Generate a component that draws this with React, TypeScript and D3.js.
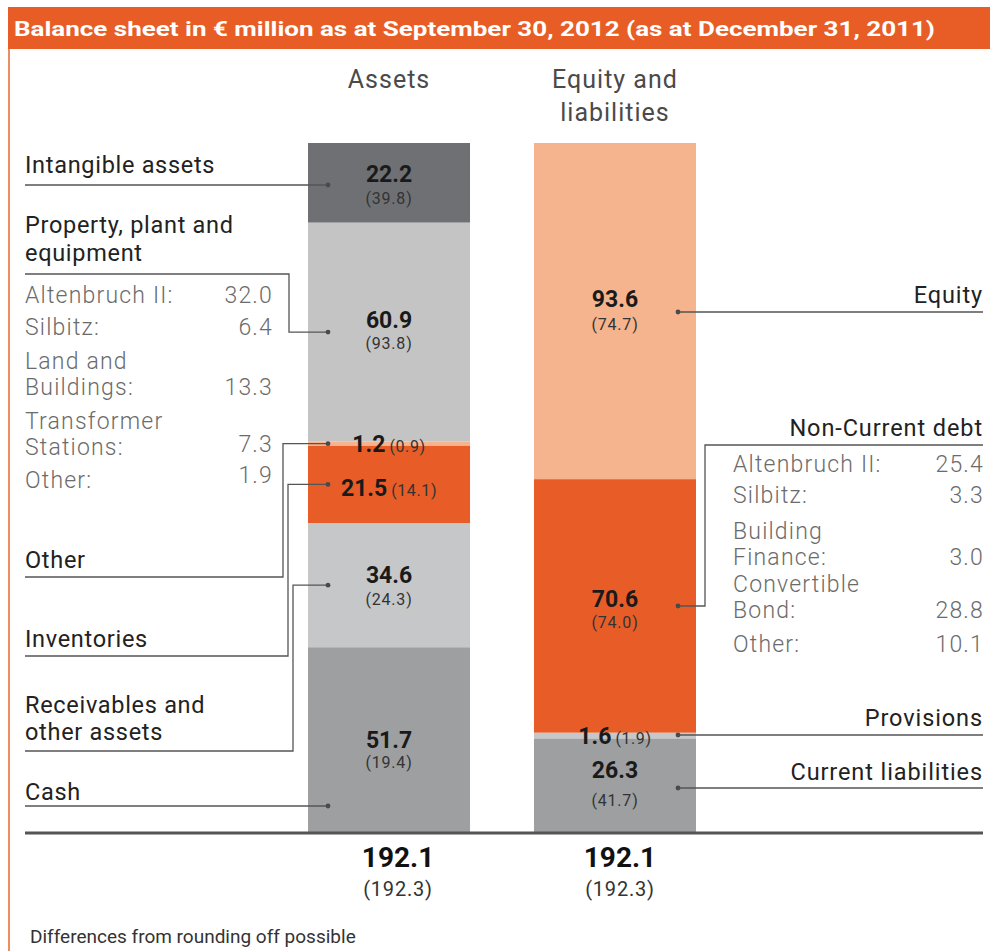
import React from "react";
import * as d3 from "d3";

// values in € million, 30.09.2012 with 31.12.2011 in brackets
const assetNames = ["Intangible assets", "Property, plant and equipment", "Other", "Inventories", "Receivables and other assets", "Cash"];
const assetValues = [22.2, 60.9, 1.2, 21.5, 34.6, 51.7];
const assetPrior = [39.8, 93.8, 0.9, 14.1, 24.3, 19.4];

const liabNames = ["Equity", "Non-Current debt", "Provisions", "Current liabilities"];
const liabValues = [93.6, 70.6, 1.6, 26.3];
const liabPrior = [74.7, 74.0, 1.9, 41.7];

const totalNow = 192.1;
const totalPrior = 192.3;

const ppeItems = ["Altenbruch II:", "Silbitz:", "Land and|Buildings:", "Transformer|Stations:", "Other:"];
const ppeValues = [32.0, 6.4, 13.3, 7.3, 1.9];

const debtItems = ["Altenbruch II:", "Silbitz:", "Building|Finance:", "Convertible|Bond:", "Other:"];
const debtValues = [25.4, 3.3, 3.0, 28.8, 10.1];

const columns = ["Assets", "Equity and liabilities"];

const assetColors = ["#6e7073", "#c4c4c4", "#f5b48d", "#e85d27", "#c5c7c9", "#9d9fa1"];
const liabColors = ["#f5b48d", "#e85d27", "#c5c7c9", "#9d9fa1"];

// annotation layout (pixels): label line baselines, underline y, elbow x
const assetLabelLayout = [
  { lines: ["Intangible assets"], base: [173], under: 185, elbow: null },
  { lines: ["Property, plant and", "equipment"], base: [233, 261], under: 274, elbow: 289 },
  { lines: ["Other"], base: [568], under: 577, elbow: 283 },
  { lines: ["Inventories"], base: [647], under: 656, elbow: 288 },
  { lines: ["Receivables and", "other assets"], base: [713, 740], under: 751, elbow: 293 },
  { lines: ["Cash"], base: [800], under: 806, elbow: null },
];
const liabLabelLayout = [
  { base: 303, under: 312, elbow: null },
  { base: 436, under: 445, elbow: 705 },
  { base: 726, under: 735, elbow: null },
  { base: 780, under: 788, elbow: null },
];
// value label: inline or stacked, offset from segment middle, gap to prior
const assetValLayout = [
  { inline: false, off: -1, gap: 22 },
  { inline: false, off: -4, gap: 21 },
  { inline: true, off: 8, gap: 0 },
  { inline: true, off: 12, gap: 0 },
  { inline: false, off: -2, gap: 22 },
  { inline: false, off: 8, gap: 20 },
];
const liabValLayout = [
  { inline: false, off: -4, gap: 23 },
  { inline: false, off: 1, gap: 21 },
  { inline: true, off: 8, gap: 0 },
  { inline: false, off: -8, gap: 28 },
];

const FONT = "Roboto, 'DejaVu Sans', sans-serif";
const LINE = "#555";

function stack(values: number[]) {
  const cum = [0, ...Array.from(d3.cumsum(values))];
  return values.map((v, i) => ({ v, y0: cum[i], y1: cum[i + 1] }));
}

export default function App() {
  const W = 997, H = 951;
  const top = 143, base = 833;
  const leftX = 25, rightX = 983;

  const x = d3.scaleBand().domain(columns).range([308, 696]).paddingInner(0.283);
  const y = d3.scaleLinear().domain([0, totalNow]).range([top, base]);
  const bw = x.bandwidth();
  const ax = x(columns[0]) as number;
  const lx = x(columns[1]) as number;
  const acx = ax + bw / 2;
  const lcx = lx + bw / 2;
  const aDotX = ax + 20;
  const lDotX = lx + bw - 18;

  const aSeg = stack(assetValues);
  const lSeg = stack(liabValues);
  const fmt = d3.format(".1f");

  const valueLabel = (cx: number, mid: number, v: number, p: number, lay: any, key: string) =>
    lay.inline ? (
      <text key={key} x={cx} y={mid + lay.off} textAnchor="middle" fontFamily={FONT}>
        <tspan fontWeight={700} fontSize={23} fill="#1a1a1a">{fmt(v)}</tspan>
        <tspan fontSize={16} fill="#333" dx={4} letterSpacing={0.6}>({fmt(p)})</tspan>
      </text>
    ) : (
      <g key={key} fontFamily={FONT} textAnchor="middle">
        <text x={cx} y={mid + lay.off} fontWeight={700} fontSize={23} fill="#1a1a1a">{fmt(v)}</text>
        <text x={cx} y={mid + lay.off + lay.gap} fontSize={16} fill="#333" letterSpacing={0.8}>({fmt(p)})</text>
      </g>
    );

  return (
    <div style={{ position: "absolute", left: 0, top: 0 }}>
      <svg width={W} height={H} style={{ display: "block", background: "#fff" }}>
        {/* frame */}
        <rect x={8} y={7} width={982} height={42} fill="#e85d26" />
        <line x1={9} y1={49} x2={9} y2={H} stroke="#e8703a" strokeWidth={1.6} />
        <text x={14} y={36} fill="#fff" fontFamily={FONT} fontWeight={700} fontSize={21}
          textLength={921} lengthAdjust="spacingAndGlyphs">
          Balance sheet in € million as at September 30, 2012 (as at December 31, 2011)
        </text>

        {/* column headers */}
        <g fontFamily={FONT} fontSize={25} fill="#4a4a4a" textAnchor="middle" letterSpacing={1}>
          <text x={acx} y={88}>{columns[0]}</text>
          <text x={lcx} y={88}>Equity and</text>
          <text x={lcx} y={121}>liabilities</text>
        </g>

        {/* bars */}
        {aSeg.map((s, i) => (
          <rect key={"a" + i} x={ax} y={y(s.y0)} width={bw} height={y(s.y1) - y(s.y0)} fill={assetColors[i]} />
        ))}
        {lSeg.map((s, i) => (
          <rect key={"l" + i} x={lx} y={y(s.y0)} width={bw} height={y(s.y1) - y(s.y0)} fill={liabColors[i]} />
        ))}

        {/* baseline */}
        <line x1={leftX} x2={rightX} y1={base} y2={base} stroke="#555" strokeWidth={3} />

        {/* asset connectors + labels */}
        {aSeg.map((s, i) => {
          const lay = assetLabelLayout[i];
          const mid = (y(s.y0) + y(s.y1)) / 2;
          const dy = lay.elbow == null ? lay.under : mid;
          const pts: [number, number][] = lay.elbow == null
            ? [[leftX, lay.under], [aDotX, lay.under]]
            : [[leftX, lay.under], [lay.elbow, lay.under], [lay.elbow, dy], [aDotX, dy]];
          return (
            <g key={"al" + i}>
              <path d={d3.line()(pts) as string} fill="none" stroke={LINE} strokeWidth={1.3} />
              <circle cx={aDotX} cy={dy} r={2.4} fill="#4a4a4a" />
              {lay.lines.map((t, j) => (
                <text key={j} x={leftX} y={lay.base[j]} fontFamily={FONT} fontSize={23.5}
                  letterSpacing={0.7} fill="#222">{t}</text>
              ))}
              {valueLabel(acx, mid, s.v, assetPrior[i], assetValLayout[i], "av" + i)}
            </g>
          );
        })}

        {/* PPE breakdown */}
        {(() => {
          const baselines = [303, 335, 395, 455, 488];
          const valShift = [0, 0, 0, -3, -5];
          return ppeItems.map((it, i) => {
            const lines = it.split("|");
            const b = baselines[i];
            return (
              <g key={"pp" + i} fontFamily={FONT} fontSize={23} fill="#6b6b6b" fontWeight={300} letterSpacing={1.2}>
                {lines.map((t, j) => (
                  <text key={j} x={leftX} y={b - (lines.length - 1 - j) * 26}>{t}</text>
                ))}
                <text x={273} y={b + valShift[i]} textAnchor="end">{fmt(ppeValues[i])}</text>
              </g>
            );
          });
        })()}

        {/* liability connectors + labels */}
        {lSeg.map((s, i) => {
          const lay = liabLabelLayout[i];
          const mid = (y(s.y0) + y(s.y1)) / 2;
          const dy = lay.elbow == null ? lay.under : mid;
          const pts: [number, number][] = lay.elbow == null
            ? [[lDotX, lay.under], [rightX, lay.under]]
            : [[lDotX, dy], [lay.elbow, dy], [lay.elbow, lay.under], [rightX, lay.under]];
          return (
            <g key={"ll" + i}>
              <path d={d3.line()(pts) as string} fill="none" stroke={LINE} strokeWidth={1.3} />
              <circle cx={lDotX} cy={dy} r={2.4} fill="#4a4a4a" />
              <text x={rightX} y={lay.base} textAnchor="end" fontFamily={FONT} fontSize={23.5}
                letterSpacing={0.9} fill="#222">{liabNames[i]}</text>
              {valueLabel(lcx, mid, s.v, liabPrior[i], liabValLayout[i], "lv" + i)}
            </g>
          );
        })}

        {/* Non-current debt breakdown */}
        {(() => {
          const baselines = [472, 503, 565, 618, 652];
          return debtItems.map((it, i) => {
            const lines = it.split("|");
            const b = baselines[i];
            return (
              <g key={"db" + i} fontFamily={FONT} fontSize={23} fill="#6b6b6b" fontWeight={300} letterSpacing={1.2}>
                {lines.map((t, j) => (
                  <text key={j} x={733} y={b - (lines.length - 1 - j) * 26}>{t}</text>
                ))}
                <text x={rightX + 1} y={b} textAnchor="end">{fmt(debtValues[i])}</text>
              </g>
            );
          });
        })()}

        {/* totals */}
        <g fontFamily={FONT} textAnchor="middle">
          <text x={acx + 9} y={867} fontWeight={700} fontSize={28} fill="#111">{fmt(totalNow)}</text>
          <text x={acx + 9} y={896} fontSize={20} fill="#333" letterSpacing={0.8}>({fmt(totalPrior)})</text>
          <text x={lcx + 5} y={867} fontWeight={700} fontSize={28} fill="#111">{fmt(totalNow)}</text>
          <text x={lcx + 5} y={896} fontSize={20} fill="#333" letterSpacing={0.8}>({fmt(totalPrior)})</text>
        </g>

        <text x={30} y={943} fontFamily={FONT} fontSize={19} fill="#333">Differences from rounding off possible</text>
      </svg>
    </div>
  );
}
